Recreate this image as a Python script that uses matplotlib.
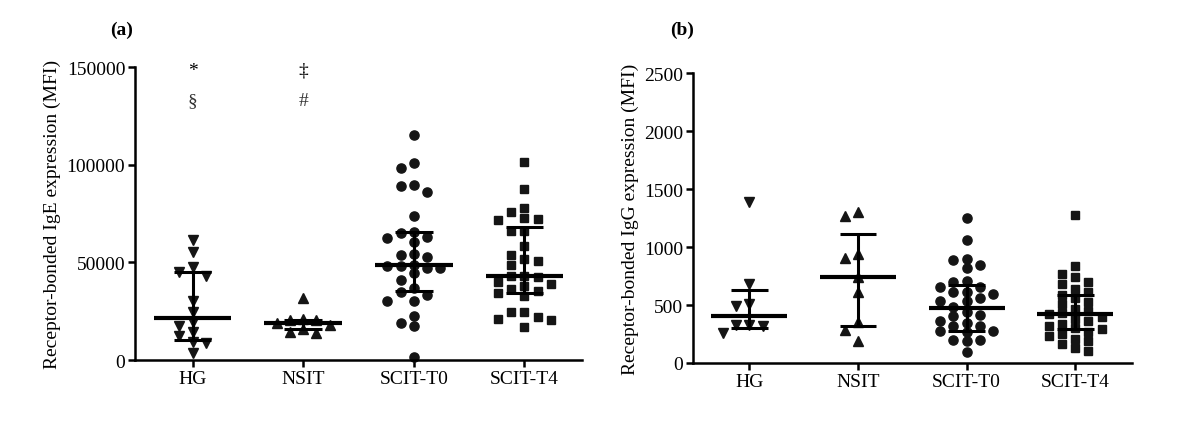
import numpy as np
import matplotlib.pyplot as plt

plt.rcParams['font.family'] = ['Liberation Serif', 'DejaVu Serif']

groups = ["HG", "NSIT", "SCIT-T0", "SCIT-T4"]
markers = ["v", "^", "o", "s"]

# (a) receptor-bonded IgE (MFI)
hg_ige = [61400, 55100, 47400, 44900, 43200, 30000, 24400, 19300, 17600, 14200, 12400, 9000, 8700, 3600]
nsit_ige = [31500, 21000, 20600, 20500, 18900, 17900, 15900, 14500, 13800]
t0_ige = [115200, 100800, 98100, 89600, 89200, 86100, 73900, 65400, 65000, 62800, 62600, 60500,
          54100, 53700, 52900, 48800, 48300, 48300, 46900, 46900, 44500, 41100, 36700, 34600,
          33300, 30400, 30400, 22400, 18900, 17600, 1700]
t4_ige = [101200, 87500, 77600, 75600, 72500, 72200, 71700, 66200, 66200, 58200, 53700, 51700,
          50800, 48600, 43100, 43100, 42300, 39800, 38900, 38000, 36300, 35500, 34300, 32900,
          24700, 24700, 21800, 21000, 20600, 16700]
ige_median = [21300, 19000, 48800, 42800]
ige_q1 = [10200, 15800, 35500, 34300]
ige_q3 = [45200, 20400, 65300, 67900]

# (b) receptor-bonded IgG (MFI)
hg_igg = [1390, 681, 509, 489, 330, 330, 316, 259]
nsit_igg = [1299, 1270, 940, 902, 745, 609, 351, 287, 187]
t0_igg = [1247, 1060, 897, 885, 847, 816, 709, 695, 658, 658, 615, 609, 595, 560, 537, 532,
          480, 437, 414, 402, 365, 345, 316, 316, 273, 273, 270, 201, 201, 187, 92]
t4_igg = [1280, 840, 770, 740, 700, 680, 640, 610, 590, 560, 530, 510, 470, 450, 430, 420,
          400, 380, 360, 340, 320, 300, 290, 270, 250, 230, 210, 190, 160, 130, 100]
igg_median = [402, 744, 477, 422]
igg_q1 = [304, 322, 278, 293]
igg_q3 = [629, 1112, 672, 590]


def swarm_x(vals, ax, x0, step_px=13.3, diam_px=9.0, max_col=2):
    # column beeswarm in pixel space, at most 2*max_col+1 columns
    p0 = ax.transData.transform((0, 0))
    p1 = ax.transData.transform((1, 1))
    x_per_px = 1.0 / (p1[0] - p0[0])
    y_px = (p1[1] - p0[1])
    vals = np.asarray(vals, dtype=float)
    out = np.full(len(vals), float(x0))
    placed = {}
    cands = [0]
    for j in range(1, max_col + 1):
        cands += [-j, j]
    for i in np.argsort(vals)[::-1]:
        yp = vals[i] * y_px
        gaps = [min([abs(yp - q) for q in placed.get(c, [])] or [1e9]) for c in cands]
        ok = [c for c, g in zip(cands, gaps) if g >= diam_px]
        col = ok[0] if ok else cands[int(np.argmax(gaps))]
        placed.setdefault(col, []).append(yp)
        out[i] = x0 + col * step_px * x_per_px
    return out


def panel(ax, data, med, q1, q3, ymax, yticks, ylabel):
    ax.set_xlim(-0.52, 3.52)
    ax.set_ylim(0, ymax)
    for i, vals in enumerate(data):
        xs = swarm_x(vals, ax, i)
        ax.plot(xs, vals, linestyle="none", marker=markers[i], color="#151515",
                markersize=6.6 if markers[i] != "s" else 6.0, zorder=2, clip_on=False)
        ax.hlines(med[i], i - 0.35, i + 0.35, color="black", lw=3, zorder=3)
        ax.vlines(i, q1[i], q3[i], color="black", lw=2.2, zorder=3)
        ax.hlines([q1[i], q3[i]], i - 0.17, i + 0.17, color="black", lw=2.2, zorder=3)
    ax.set_xticks(range(len(groups)))
    ax.set_xticklabels(groups)
    ax.set_yticks(yticks)
    ax.set_yticklabels([str(t) for t in yticks])
    ax.spines["top"].set_visible(False)
    ax.spines["right"].set_visible(False)
    ax.spines["left"].set_linewidth(1.8)
    ax.spines["bottom"].set_linewidth(1.8)
    ax.tick_params(axis="both", direction="out", length=5, width=1.8, labelsize=14, pad=2)
    ax.set_ylabel(ylabel, fontsize=14, labelpad=4)


fig = plt.figure(figsize=(12, 4.31), dpi=100)
ax1 = fig.add_axes([0.1125, 0.1624, 0.3725, 0.6796])
ax2 = fig.add_axes([0.5775, 0.1555, 0.3655, 0.6721])

panel(ax1, [hg_ige, nsit_ige, t0_ige, t4_ige], ige_median, ige_q1, ige_q3,
      150000, [0, 50000, 100000, 150000], "Receptor-bonded IgE expression (MFI)")
panel(ax2, [hg_igg, nsit_igg, t0_igg, t4_igg], igg_median, igg_q1, igg_q3,
      2500, [0, 500, 1000, 1500, 2000, 2500], "Receptor-bonded IgG expression (MFI)")

# significance marks
ax1.text(0, 148300, "*", ha="center", va="center", fontsize=14, clip_on=False)
ax1.text(0, 132700, "§", ha="center", va="center", fontsize=14, color="#333333")
ax1.text(1, 148300, "‡", ha="center", va="center", fontsize=14, clip_on=False)
ax1.text(1, 132700, "#", ha="center", va="center", fontsize=14, color="#333333")

fig.text(122 / 1200, 1 - 30 / 431, "(a)", fontsize=14, fontweight="bold", ha="center", va="center")
fig.text(682 / 1200, 1 - 30 / 431, "(b)", fontsize=14, fontweight="bold", ha="center", va="center")

fig.savefig("out.png", dpi=100)
